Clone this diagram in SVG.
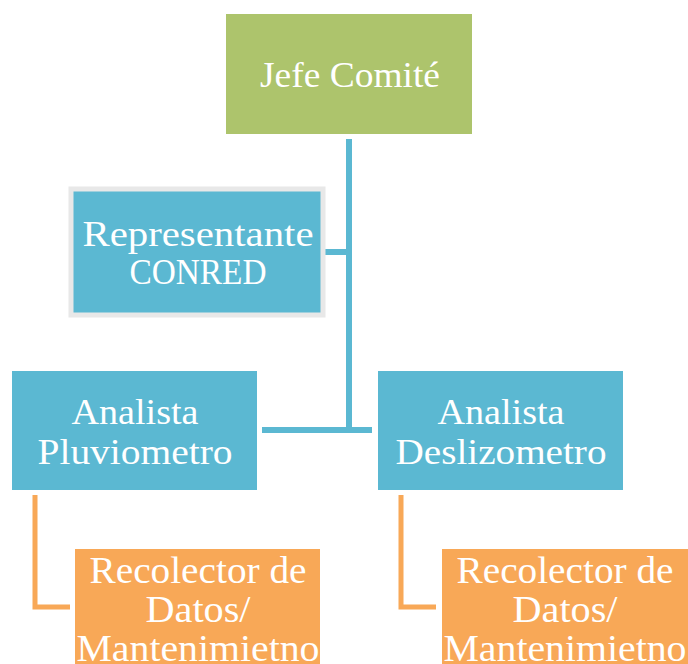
<svg xmlns="http://www.w3.org/2000/svg" width="688" height="664" viewBox="0 0 688 664">
<style>
.t{font-family:"Liberation Serif","DejaVu Serif",serif;fill:#fff;text-anchor:middle;font-size:35px}
.o{font-size:38px}
.blue{fill:#5BB8D2}
.org{fill:#F8A857}
.cb{stroke:#5BB8D2;stroke-width:6;fill:none}
.co{stroke:#F8A857;stroke-width:5;fill:none}
</style>
<rect width="688" height="664" fill="#fff"/>
<g id="connectors">
<path class="cb" d="M349 139V430M325 252H349M262 430H372"/>
<path class="co" d="M35 495V607H70M401 495V607H436"/>
</g>
<g id="jefe">
<rect x="226" y="14" width="246" height="120" fill="#ADC46C"/>
<text class="t" x="350" y="87" textLength="180" lengthAdjust="spacingAndGlyphs">Jefe Comité</text>
</g>
<g id="conred">
<rect x="71" y="189" width="252" height="126" fill="#5BB8D2" stroke="#E8E8E8" stroke-width="5"/>
<text class="t" x="198" y="246" textLength="231" lengthAdjust="spacingAndGlyphs">Representante</text>
<text class="t" x="198" y="284" textLength="137" lengthAdjust="spacingAndGlyphs">CONRED</text>
</g>
<g id="pluvio">
<rect class="blue" x="12" y="371" width="245" height="119"/>
<text class="t" x="135" y="424" textLength="127" lengthAdjust="spacingAndGlyphs">Analista</text>
<text class="t" x="135" y="464" textLength="195" lengthAdjust="spacingAndGlyphs">Pluviometro</text>
</g>
<g id="desliz">
<rect class="blue" x="378" y="371" width="245" height="119"/>
<text class="t" x="501" y="424" textLength="127" lengthAdjust="spacingAndGlyphs">Analista</text>
<text class="t" x="501" y="464" textLength="211" lengthAdjust="spacingAndGlyphs">Deslizometro</text>
</g>
<g id="recolector1">
<rect class="org" x="75" y="549" width="245" height="115"/>
<text class="t o" x="198" y="583" textLength="217" lengthAdjust="spacingAndGlyphs">Recolector de</text>
<text class="t o" x="198" y="622" textLength="105" lengthAdjust="spacingAndGlyphs">Datos/</text>
<text class="t o" x="198" y="661" textLength="243" lengthAdjust="spacingAndGlyphs">Mantenimietno</text>
</g>
<g id="recolector2">
<rect class="org" x="442" y="549" width="246" height="115"/>
<text class="t o" x="565" y="583" textLength="217" lengthAdjust="spacingAndGlyphs">Recolector de</text>
<text class="t o" x="565" y="622" textLength="105" lengthAdjust="spacingAndGlyphs">Datos/</text>
<text class="t o" x="565" y="661" textLength="243" lengthAdjust="spacingAndGlyphs">Mantenimietno</text>
</g>
</svg>
